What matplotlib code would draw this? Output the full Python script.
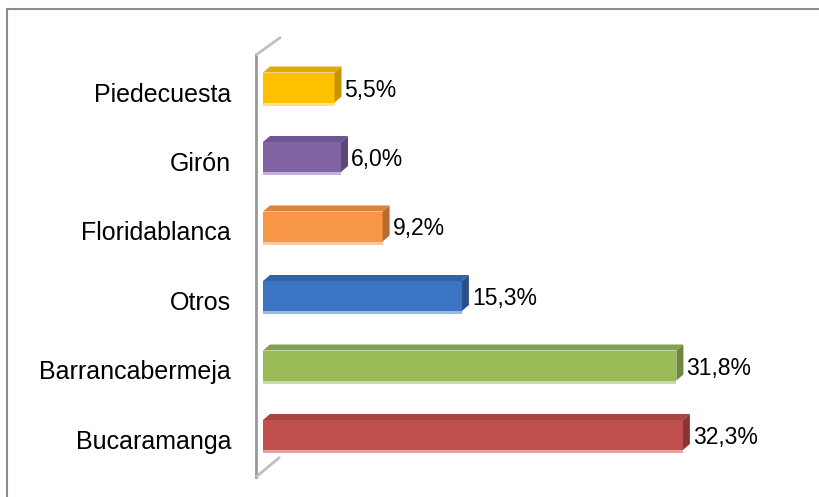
import matplotlib
matplotlib.use('Agg')
import matplotlib.pyplot as plt
from matplotlib.patches import Polygon, Rectangle

plt.rcParams['font.family'] = ['Liberation Sans', 'DejaVu Sans']

# datos (de abajo hacia arriba)
municipios = ['Bucaramanga', 'Barrancabermeja', 'Otros', 'Floridablanca', 'Girón', 'Piedecuesta']
porcentajes = [32.3, 31.8, 15.3, 9.2, 6.0, 5.5]

frente = ['#C0504D', '#9BBB59', '#3A74C2', '#F79646', '#8064A2', '#FFC000']
lado = ['#8A3533', '#6C8A3A', '#284F86', '#B96A2C', '#5C477A', '#C79500']
arriba = ['#A84543', '#82A24B', '#3163A6', '#DB8438', '#6E5691', '#E2AA00']
brillo = ['#E3A3A1', '#CADBA8', '#9DB8E0', '#FBC9A0', '#C2B3D6', '#FFE08A']

W, H = 819, 497
fig = plt.figure(figsize=(W / 100, H / 100), dpi=100)

# escala en pixeles
x0_px = 263
px_x = 13.0
y_top_px = 87.5
y_bot_px = 435
px_y = (y_bot_px - y_top_px) / 5
ax_top, ax_bot = 30, 490
ax = fig.add_axes([x0_px / W, (H - ax_bot) / H, (W - x0_px) / W, (ax_bot - ax_top) / H])
ax.set_xlim(0, (W - x0_px) / px_x)
ax.set_ylim(-(ax_bot - y_bot_px) / px_y, 5 + (y_top_px - ax_top) / px_y)
ax.axis('off')

alto = 30 / px_y
dx = 7 / px_x
dy = 6 / px_y
pos = list(range(len(municipios)))

ax.barh(pos, porcentajes, height=alto, color=frente, edgecolor='none', zorder=3)

for i, v in enumerate(porcentajes):
    yb, yt = i - alto / 2, i + alto / 2
    # cara superior
    ax.add_patch(Polygon([(0, yt), (v, yt), (v + dx, yt + dy), (dx, yt + dy)],
                         closed=True, facecolor=arriba[i], edgecolor='none', zorder=3))
    # cara lateral
    ax.add_patch(Polygon([(v, yb), (v, yt), (v + dx, yt + dy), (v + dx, yb + dy)],
                         closed=True, facecolor=lado[i], edgecolor='none', zorder=3))
    # reflejo inferior
    ax.add_patch(Rectangle((0, yb - 3 / px_y), v, 3 / px_y, facecolor=brillo[i],
                           edgecolor='none', zorder=2))
    etiqueta = f'{v:.1f}%'.replace('.', ',')
    ax.text(v + dx + 3 / px_x, yb + 6 / px_y, etiqueta, fontsize=16.5, va='baseline',
            ha='left', color='black', zorder=4)
    ax.text(-32 / px_x, yb + 1 / px_y, municipios[i], fontsize=18, va='baseline',
            ha='right', color='black', clip_on=False)

# pared del grafico
wx = -7 / px_x
w_top = 5 + (y_top_px - 55) / px_y
w_bot = -(477 - y_bot_px) / px_y
ax.plot([wx, wx], [w_bot, w_top], color='#999999', lw=2, clip_on=False, zorder=1)
ax.plot([wx, (281 - x0_px) / px_x], [w_top, 5 + (y_top_px - 37) / px_y],
        color='#c0c0c0', lw=2, clip_on=False, zorder=1, solid_capstyle='butt')
ax.plot([wx, (280 - x0_px) / px_x], [w_bot, -(457 - y_bot_px) / px_y],
        color='#c0c0c0', lw=2, clip_on=False, zorder=1, solid_capstyle='butt')

# marco del area del grafico
fig.patches.append(Rectangle((7 / W, -0.1), 1.2, 1 - 9 / H + 0.1, transform=fig.transFigure,
                             fill=False, edgecolor='#8c8c8c', lw=1.5))

fig.savefig('out.png', dpi=100)
